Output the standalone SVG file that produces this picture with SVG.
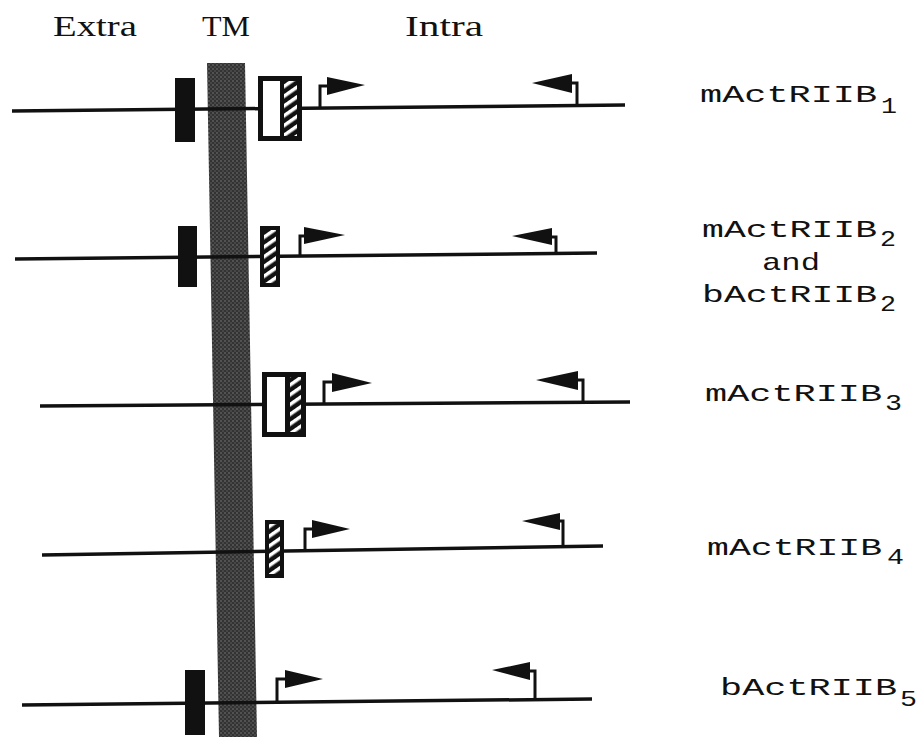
<svg xmlns="http://www.w3.org/2000/svg" width="921" height="737" viewBox="0 0 921 737">
<defs>
<pattern id="stip" width="4" height="4" patternUnits="userSpaceOnUse">
<rect width="4" height="4" fill="#333"/>
<circle cx="1" cy="1" r="0.8" fill="#7a7a7a"/>
<circle cx="3" cy="3" r="0.8" fill="#606060"/>
</pattern>
<pattern id="hatch" width="8" height="8" patternUnits="userSpaceOnUse" patternTransform="rotate(-35)">
<rect width="8" height="8" fill="#111"/>
<rect x="0" y="0" width="8" height="3.5" fill="#fff"/>
</pattern>
</defs>
<style>
.hdr{font-family:"Liberation Serif","DejaVu Serif",serif;font-size:29px;fill:#111}
.lbl{font-family:"Liberation Mono","DejaVu Sans Mono",monospace;font-size:24px;fill:#111}
.sub{font-family:"Liberation Mono","DejaVu Sans Mono",monospace;font-size:22px;fill:#111}
.bb{stroke:#111;stroke-width:3.5;fill:none}
.stem{stroke:#111;stroke-width:3;fill:none}
.tri{fill:#111}
.blk{fill:#111}
.wht{fill:#fff}
.hat{fill:url(#hatch)}
</style>
<rect width="921" height="737" fill="#fff"/>
<g id="headers">
<text class="hdr" x="53" y="36" textLength="84" lengthAdjust="spacingAndGlyphs">Extra</text>
<text class="hdr" x="202" y="36" textLength="48" lengthAdjust="spacingAndGlyphs">TM</text>
<text class="hdr" x="405" y="36" textLength="78" lengthAdjust="spacingAndGlyphs">Intra</text>
</g>
<g id="tm-band">
<polygon points="207,63 245,63 257,737 219,737" fill="url(#stip)"/>
</g>
<g id="connectors">
<line class="bb" x1="12" y1="111" x2="625" y2="105"/>
<line class="bb" x1="15" y1="259" x2="597" y2="253"/>
<line class="bb" x1="40" y1="406" x2="630" y2="402"/>
<line class="bb" x1="42" y1="555" x2="603" y2="546"/>
<line class="bb" x1="22" y1="705" x2="592" y2="699"/>
</g>
<g id="row1">
<rect class="blk" x="175" y="78" width="20" height="64"/>
<rect class="blk" x="258" y="76" width="44" height="65"/>
<rect class="wht" x="263" y="81" width="17" height="55"/>
<rect class="hat" x="284" y="81" width="13" height="55"/>
<path class="stem" d="M320,109 V86 H330"/>
<polygon class="tri" points="327,77 365,85 327,95"/>
<path class="stem" d="M577,106 V83 H570"/>
<polygon class="tri" points="572,74 532,83 572,93"/>
<text class="lbl" x="700" y="102" textLength="177" lengthAdjust="spacingAndGlyphs">mActRIIB</text>
<text class="sub" x="881" y="113" textLength="16" lengthAdjust="spacingAndGlyphs">1</text>
</g>
<g id="row2">
<rect class="blk" x="178" y="226" width="19" height="61"/>
<rect class="blk" x="260" y="226" width="20" height="61"/>
<rect class="hat" x="264" y="230" width="12" height="53"/>
<path class="stem" d="M300,257 V236 H306"/>
<polygon class="tri" points="304,227 345,235 304,244"/>
<path class="stem" d="M556,254 V237 H550"/>
<polygon class="tri" points="552,228 512,236 552,245"/>
<text class="lbl" x="702" y="237" textLength="175" lengthAdjust="spacingAndGlyphs">mActRIIB</text>
<text class="sub" x="880" y="246" textLength="16" lengthAdjust="spacingAndGlyphs">2</text>
<text class="lbl" x="762" y="270" textLength="58" lengthAdjust="spacingAndGlyphs">and</text>
<text class="lbl" x="702" y="302" textLength="175" lengthAdjust="spacingAndGlyphs">bActRIIB</text>
<text class="sub" x="880" y="311" textLength="16" lengthAdjust="spacingAndGlyphs">2</text>
</g>
<g id="row3">
<rect class="blk" x="262" y="372" width="44" height="65"/>
<rect class="wht" x="267" y="377" width="18" height="55"/>
<rect class="hat" x="290" y="377" width="11" height="55"/>
<path class="stem" d="M324,404 V382 H334"/>
<polygon class="tri" points="332,373 372,383 332,392"/>
<path class="stem" d="M583,403 V380 H576"/>
<polygon class="tri" points="578,371 536,380 578,390"/>
<text class="lbl" x="705" y="401" textLength="177" lengthAdjust="spacingAndGlyphs">mActRIIB</text>
<text class="sub" x="885" y="410" textLength="17" lengthAdjust="spacingAndGlyphs">3</text>
</g>
<g id="row4">
<rect class="blk" x="265" y="520" width="19" height="58"/>
<rect class="hat" x="269" y="524" width="11" height="50"/>
<path class="stem" d="M305,552 V529 H314"/>
<polygon class="tri" points="312,520 350,529 312,538"/>
<path class="stem" d="M563,548 V521 H558"/>
<polygon class="tri" points="560,513 522,521 560,530"/>
<text class="lbl" x="707" y="555" textLength="175" lengthAdjust="spacingAndGlyphs">mActRIIB</text>
<text class="sub" x="887" y="564" textLength="17" lengthAdjust="spacingAndGlyphs">4</text>
</g>
<g id="row5">
<rect class="blk" x="185" y="670" width="20" height="65"/>
<path class="stem" d="M277,703 V679 H287"/>
<polygon class="tri" points="285,670 323,679 285,688"/>
<path class="stem" d="M535,700 V671 H528"/>
<polygon class="tri" points="530,662 492,670 530,680"/>
<text class="lbl" x="720" y="695" textLength="177" lengthAdjust="spacingAndGlyphs">bActRIIB</text>
<text class="sub" x="900" y="706" textLength="17" lengthAdjust="spacingAndGlyphs">5</text>
</g>
</svg>
